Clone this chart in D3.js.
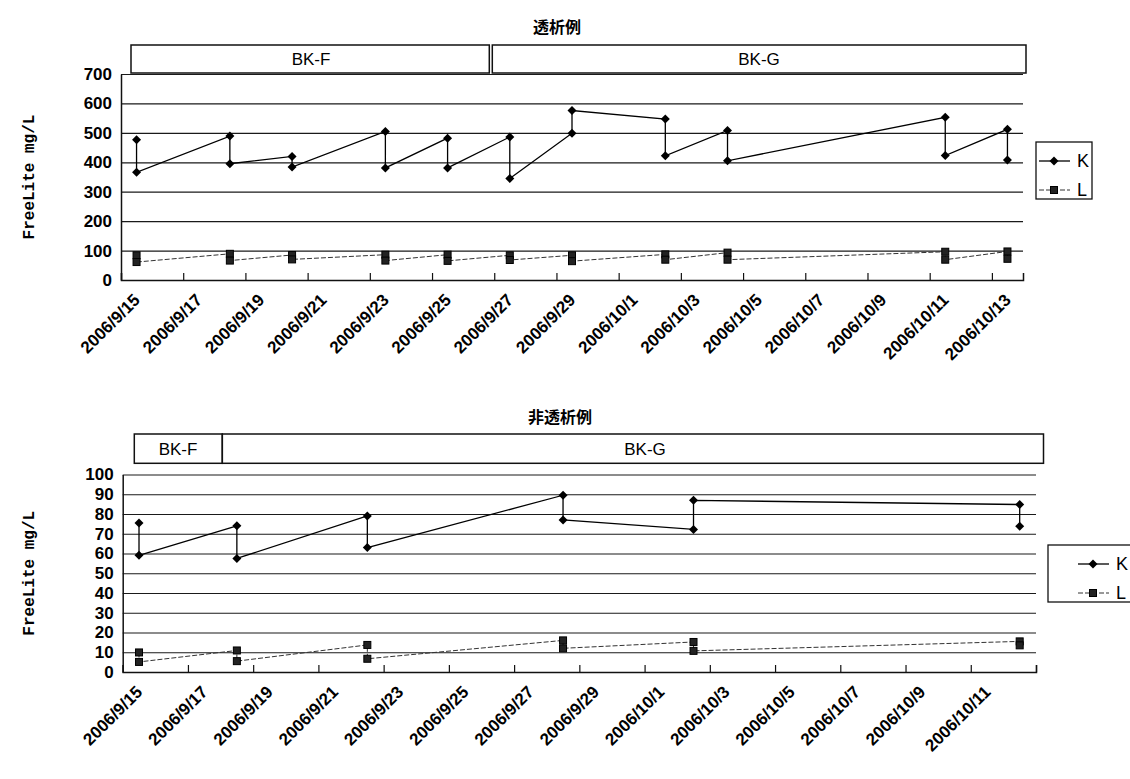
<!DOCTYPE html>
<html><head><meta charset="utf-8">
<script src="https://cdn.jsdelivr.net/npm/d3@7"></script>
<style>
body{margin:0;background:#fff;}
svg{display:block;}
</style></head><body>
<svg id="c" width="1130" height="779"></svg>
<script>
// ---------- DATA ----------
// 透析例 (dialysis case): two measurements per visit date (first, second)
const topDates = ["2006/9/15","2006/9/18","2006/9/20","2006/9/23","2006/9/25","2006/9/27","2006/9/29","2006/10/2","2006/10/4","2006/10/11","2006/10/13"];
const topK1 = [477, 489, 420, 505, 482, 486, 499, 547, 508, 553, 512];
const topK2 = [366, 395, 384, 381, 381, 345, 576, 422, 405, 423, 408];
const topL1 = [84, 89, 85, 86, 86, 84, 84, 87, 93, 96, 97];
const topL2 = [61, 66, 70, 66, 65, 68, 64, 69, 69, 69, 72];
const topTickLabels = ["2006/9/15","2006/9/17","2006/9/19","2006/9/21","2006/9/23","2006/9/25","2006/9/27","2006/9/29","2006/10/1","2006/10/3","2006/10/5","2006/10/7","2006/10/9","2006/10/11","2006/10/13"];
const topYTicks = [0,100,200,300,400,500,600,700];

// 非透析例 (non-dialysis case)
const botDates = ["2006/9/15","2006/9/18","2006/9/22","2006/9/28","2006/10/2","2006/10/12"];
const botK1 = [75.4, 74.0, 79.0, 89.5, 72.2, 84.8];
const botK2 = [59.1, 57.5, 63.0, 77.0, 86.9, 73.8];
const botL1 = [9.9, 10.9, 13.7, 16.0, 15.2, 15.5];
const botL2 = [5.1, 5.5, 6.7, 12.0, 10.7, 13.5];
const botTickLabels = ["2006/9/15","2006/9/17","2006/9/19","2006/9/21","2006/9/23","2006/9/25","2006/9/27","2006/9/29","2006/10/1","2006/10/3","2006/10/5","2006/10/7","2006/10/9","2006/10/11"];
const botYTicks = [0,10,20,30,40,50,60,70,80,90,100];

const seriesNames = ["K", "L"];
const yTitle = "FreeLite mg/L";

// ---------- DRAW ----------
const svg = d3.select("#c");
const parse = d3.utcParse("%Y/%m/%d");
const DAY = 864e5;
const numFont = "'Liberation Sans', Arial, sans-serif";

function diamond(r){ return `M0,${-r}L${r},0L0,${r}L${-r},0Z`; }

function panel(cfg) {
  const x = d3.scaleUtc()
    .domain([parse(cfg.start), new Date(+parse(cfg.start) + cfg.nDays * DAY)])
    .range([cfg.x0, cfg.x1]);
  const y = d3.scaleLinear().domain([0, cfg.yMax]).range([cfg.y1, cfg.y0]);
  const mid = d => new Date(+parse(d) + DAY / 2);
  const g = svg.append("g");

  // title
  g.append("text").attr("x", cfg.titleX).attr("y", cfg.titleY)
    .attr("text-anchor", "middle")
    .attr("font-family", "'Noto Sans CJK JP', sans-serif")
    .attr("font-weight", "bold").attr("font-size", 16).text(cfg.title);

  // phase boxes
  cfg.boxes.forEach(b => {
    g.append("rect").attr("x", b.x0).attr("y", cfg.boxY0)
      .attr("width", b.x1 - b.x0).attr("height", cfg.boxY1 - cfg.boxY0)
      .attr("fill", "none").attr("stroke", "#111").attr("stroke-width", 1.5);
    g.append("text").attr("x", b.tx).attr("y", (cfg.boxY0 + cfg.boxY1) / 2)
      .attr("dy", "0.36em").attr("text-anchor", "middle")
      .attr("font-family", numFont).attr("font-size", 17).text(b.name);
  });

  // horizontal gridlines
  const grid = g.append("g").attr("transform", `translate(${cfg.x0},0)`)
    .call(d3.axisLeft(y).tickValues(cfg.yTicks).tickSize(-(cfg.x1 - cfg.x0)).tickFormat(""));
  grid.select(".domain").remove();
  grid.selectAll("line").attr("stroke", "#1a1a1a").attr("stroke-width", 1.2);

  // y axis with labels
  const ya = g.append("g").attr("transform", `translate(${cfg.x0},0)`)
    .call(d3.axisLeft(y).tickValues(cfg.yTicks).tickSize(0).tickPadding(9));
  ya.select(".domain").attr("stroke", "#111").attr("stroke-width", 1.5);
  ya.selectAll("text").attr("font-family", numFont).attr("font-weight", "bold")
    .attr("font-size", 17).attr("fill", "#000");

  // x axis: ticks at every 2-day boundary (inside)
  const tickDates = d3.range(0, cfg.nDays + 1, 2).map(i => new Date(+parse(cfg.start) + i * DAY));
  const xa = g.append("g").attr("transform", `translate(0,${cfg.y1})`)
    .call(d3.axisBottom(x).tickValues(tickDates).tickSize(-7).tickFormat(""));
  xa.select(".domain").attr("stroke", "#111").attr("stroke-width", 1.5);
  xa.selectAll("line").attr("stroke", "#111").attr("stroke-width", 1.2);

  // x labels (rotated) at centre of labeled day
  const xl = g.append("g").attr("transform", `translate(0,${cfg.y1})`)
    .call(d3.axisBottom(x).tickValues(cfg.tickLabels.map(mid)).tickSize(0)
      .tickFormat((d, i) => cfg.tickLabels[i]));
  xl.select(".domain").remove();
  xl.selectAll("text").attr("y", 0).attr("dy", 0)
    .attr("transform", "translate(4,21) rotate(-45)")
    .attr("text-anchor", "end").attr("font-family", numFont)
    .attr("font-weight", "bold").attr("font-size", 17).attr("fill", "#000");

  // y axis title
  g.append("text").attr("transform", `translate(${cfg.yTitleX},${(cfg.y0 + cfg.y1) / 2}) rotate(-90)`)
    .attr("text-anchor", "middle").attr("font-family", "'Liberation Mono', 'DejaVu Sans Mono', monospace")
    .attr("font-size", 16).attr("font-weight", "bold").text(yTitle);

  // series
  const seq = (a1, a2) => cfg.dates.flatMap((d, i) => [[mid(d), a1[i]], [mid(d), a2[i]]]);
  const line = d3.line().x(d => x(d[0])).y(d => y(d[1]));
  const L = seq(cfg.l1, cfg.l2), K = seq(cfg.k1, cfg.k2);

  g.append("path").datum(L).attr("d", line).attr("fill", "none")
    .attr("stroke", "#333").attr("stroke-width", 1).attr("stroke-dasharray", "5,2");
  g.selectAll(".lsq").data(L).join("rect")
    .attr("x", d => x(d[0]) - 3.5).attr("y", d => y(d[1]) - 3.5)
    .attr("width", 7).attr("height", 7).attr("fill", "#222").attr("stroke", "#000");

  g.append("path").datum(K).attr("d", line).attr("fill", "none")
    .attr("stroke", "#000").attr("stroke-width", 1.3);
  g.selectAll(".kdm").data(K).join("path")
    .attr("d", diamond(4.5))
    .attr("transform", d => `translate(${x(d[0])},${y(d[1])})`).attr("fill", "#000");

  // legend
  const lg = cfg.legend;
  g.append("rect").attr("x", lg.x).attr("y", lg.y).attr("width", lg.w).attr("height", 57)
    .attr("fill", "#fff").attr("stroke", "#111").attr("stroke-width", 1.3);
  seriesNames.forEach((nm, i) => {
    const cy = lg.y + 19 + i * 29;
    const sx = lg.x + lg.pad;
    g.append("line").attr("x1", sx).attr("x2", sx + 31).attr("y1", cy).attr("y2", cy)
      .attr("stroke", i ? "#333" : "#000").attr("stroke-width", i ? 1 : 1.3)
      .attr("stroke-dasharray", i ? "5,2" : null);
    if (i === 0) g.append("path").attr("d", diamond(4.5)).attr("transform", `translate(${sx + 15},${cy})`);
    else g.append("rect").attr("x", sx + 15 - 3.5).attr("y", cy - 3.5).attr("width", 7).attr("height", 7)
      .attr("fill", "#222").attr("stroke", "#000");
    g.append("text").attr("x", sx + 38).attr("y", cy).attr("dy", "0.36em")
      .attr("font-family", numFont).attr("font-size", 18).text(nm);
  });
}

panel({
  title: "透析例", titleX: 557, titleY: 33,
  dates: topDates, k1: topK1, k2: topK2, l1: topL1, l2: topL2,
  tickLabels: topTickLabels, yTicks: topYTicks, yMax: 700,
  start: "2006/9/15", nDays: 29,
  x0: 121, x1: 1023, y0: 74, y1: 280, yTitleX: 34,
  boxY0: 45, boxY1: 73,
  boxes: [{name: "BK-F", x0: 131, x1: 489.3, tx: 311}, {name: "BK-G", x0: 492.3, x1: 1026, tx: 759}],
  legend: {x: 1036, y: 142, w: 56, pad: 3}
});

panel({
  title: "非透析例", titleX: 560, titleY: 423,
  dates: botDates, k1: botK1, k2: botK2, l1: botL1, l2: botL2,
  tickLabels: botTickLabels, yTicks: botYTicks, yMax: 100,
  start: "2006/9/15", nDays: 28,
  x0: 122.7, x1: 1036, y0: 474.5, y1: 672, yTitleX: 34,
  boxY0: 434, boxY1: 463.3,
  boxes: [{name: "BK-F", x0: 134.3, x1: 222.3, tx: 178}, {name: "BK-G", x0: 222.3, x1: 1043.5, tx: 645}],
  legend: {x: 1048, y: 545, w: 95, pad: 30}
});
</script>
</body></html>
